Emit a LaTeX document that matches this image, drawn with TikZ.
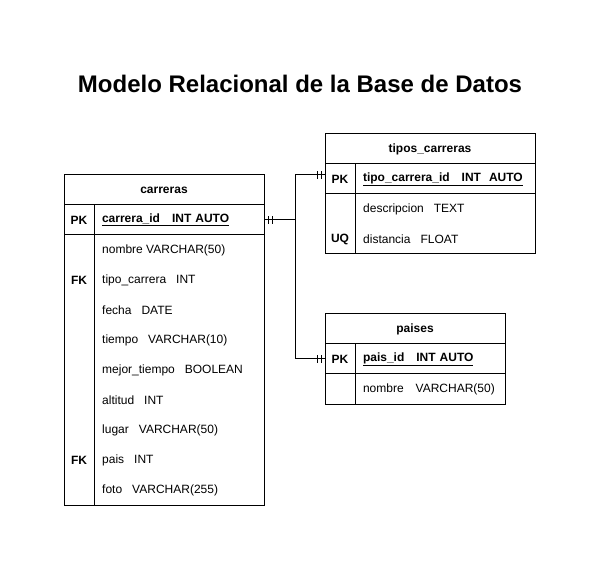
\documentclass[tikz,border=0pt]{standalone}
\usepackage{fontspec}
\setmainfont{Liberation Sans}
\usetikzlibrary{positioning,decorations.markings}

\newcommand{\cellfont}{\fontsize{12}{14}\selectfont}

\tikzset{
	tblhead/.style={draw, line width=1pt, minimum height=30pt, inner sep=0pt, outer sep=0pt, font=\cellfont\bfseries},
	keycell/.style={draw, line width=1pt, minimum width=30pt, minimum height=30pt, inner sep=0pt, outer sep=0pt, font=\cellfont\bfseries},
	fldcell/.style={draw, line width=1pt, text width=#1, inner xsep=8pt, inner ysep=0pt, outer sep=0pt, minimum height=30pt, align=left, font=\cellfont},
	fld/.style={anchor=west, inner sep=0pt, font=\cellfont},
	keytxt/.style={inner sep=0pt, font=\cellfont\bfseries},
	tick/.style={line width=1pt},
	rel/.style={line width=1pt, postaction={decorate}, decoration={markings,
		mark=at position 4.5pt with {\draw[tick] (0,-4pt) -- (0,4pt);},
		mark=at position 8pt with {\draw[tick] (0,-4pt) -- (0,4pt);},
		mark=at position -4pt with {\draw[tick] (0,-4pt) -- (0,4pt);},
		mark=at position -8pt with {\draw[tick] (0,-4pt) -- (0,4pt);}}}
}

\begin{document}
\begin{tikzpicture}[x=1pt, y=-1pt]
	\useasboundingbox (0,0) rectangle (600,569);

	\node[font=\fontsize{24}{28}\selectfont\bfseries] (title) at (300,84) {Modelo Relacional de la Base de Datos};

	% carreras
	\node[tblhead, minimum width=200pt] (carreras) at (164,190) {carreras};
	\node[keycell, anchor=north west] (carrerasPKk) at (carreras.south west) {PK};
	\node[fldcell=154pt, anchor=north west, font=\cellfont\bfseries] (carrerasPK) at (carrerasPKk.north east) {\underline{carrera\_id~~~INT AUTO}};
	\node[keycell, minimum height=270pt, anchor=north west] (carrerasKeys) at (carrerasPKk.south west) {};
	\node[fldcell=154pt, minimum height=270pt, anchor=north west] (carrerasBody) at (carrerasKeys.north east) {};
	\foreach \txt [count=\i] in {{nombre VARCHAR(50)}, {tipo\_carrera~~~INT}, {fecha~~~DATE}, {tiempo~~~VARCHAR(10)}, {mejor\_tiempo~~~BOOLEAN}, {altitud~~~INT}, {lugar~~~VARCHAR(50)}, {pais~~~INT}, {foto~~~VARCHAR(255)}}
		\node[fld] (carrerasF\i) at ([xshift=8pt, yshift={30-30*\i-15}]carrerasBody.north west) {\txt};
	\node[keytxt] (carrerasFK1) at (carrerasKeys.north |- carrerasF2) {FK};
	\node[keytxt] (carrerasFK2) at (carrerasKeys.north |- carrerasF8) {FK};

	% tipos_carreras
	\node[tblhead, minimum width=210pt] (tipos) at (430,149) {tipos\_carreras};
	\node[keycell, anchor=north west] (tiposPKk) at (tipos.south west) {PK};
	\node[fldcell=164pt, anchor=north west, font=\cellfont\bfseries] (tiposPK) at (tiposPKk.north east) {\underline{tipo\_carrera\_id~~~INT~~AUTO}};
	\node[keycell, minimum height=60pt, anchor=north west] (tiposKeys) at (tiposPKk.south west) {};
	\node[fldcell=164pt, minimum height=60pt, anchor=north west] (tiposBody) at (tiposKeys.north east) {};
	\foreach \txt [count=\i] in {{descripcion~~~TEXT}, {distancia~~~FLOAT}}
		\node[fld] (tiposF\i) at ([xshift=8pt, yshift={30-30*\i-15}]tiposBody.north west) {\txt};
	\node[keytxt] (tiposUQ) at (tiposKeys.north |- tiposF2) {UQ};

	% paises
	\node[tblhead, minimum width=180pt] (paises) at (415,329) {paises};
	\node[keycell, anchor=north west] (paisesPKk) at (paises.south west) {PK};
	\node[fldcell=134pt, anchor=north west, font=\cellfont\bfseries] (paisesPK) at (paisesPKk.north east) {\underline{pais\_id~~~INT AUTO}};
	\node[keycell, anchor=north west] (paisesKeys) at (paisesPKk.south west) {};
	\node[fldcell=134pt, anchor=north west] (paisesF1) at (paisesKeys.north east) {nombre~~~VARCHAR(50)};

	% relaciones
	\draw[rel] (carrerasPK.east) -- ++(31,0) |- ([yshift=4pt]tiposPKk.west);
	\draw[rel] (carrerasPK.east) -- ++(31,0) |- (paisesPKk.west);
\end{tikzpicture}
\end{document}
